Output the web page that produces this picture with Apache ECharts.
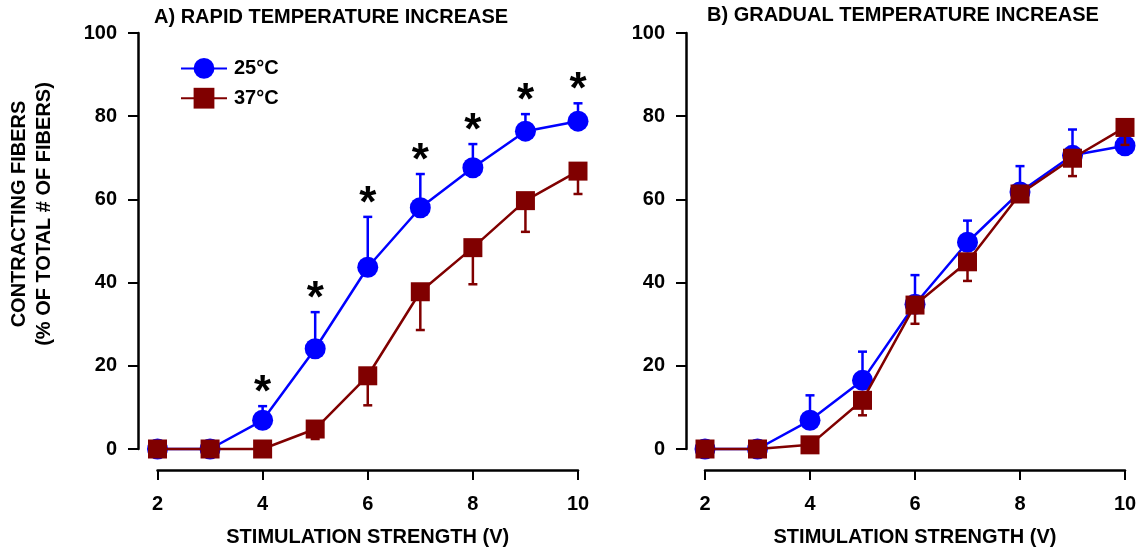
<!DOCTYPE html>
<html>
<head>
<meta charset="utf-8">
<script src="https://cdn.jsdelivr.net/npm/echarts@6/dist/echarts.min.js"></script>
<style>
html,body{margin:0;padding:0;background:#fff;}
#chart{width:1141px;height:552px;}
</style>
</head>
<body>
<div id="chart"></div>
<script>
// ---- data ----
const volts = [2, 3, 4, 5, 6, 7, 8, 9, 10];
const seriesNames = ['25°C', '37°C'];
// Panel A: rapid temperature increase
const A_25 = [0, 0, 6.9, 24.1, 43.7, 58.0, 67.6, 76.4, 78.8];
const A_25_err = [0, 0, 3.4, 8.8, 12.1, 8.1, 5.7, 4.1, 4.3];
const A_37 = [0, 0, 0, 4.8, 17.6, 37.8, 48.4, 59.7, 66.8];
const A_37_err = [0, 0, 0, 2.4, 7.1, 9.2, 8.8, 7.5, 5.5];
const A_sig = [0, 0, 1, 1, 1, 1, 1, 1, 1];
// Panel B: gradual temperature increase
const B_25 = [0, 0, 6.9, 16.5, 34.8, 49.7, 61.8, 70.6, 72.9];
const B_25_err = [0, 0, 6.0, 6.9, 7.0, 5.2, 6.2, 6.2, 2.5];
const B_37 = [0, 0, 1.0, 11.7, 34.6, 45.0, 61.3, 69.9, 77.3];
const B_37_err = [0, 0, 0, 3.6, 4.5, 4.6, 1.5, 4.3, 4.2];
const panelTitles = ['A) RAPID TEMPERATURE INCREASE', 'B) GRADUAL TEMPERATURE INCREASE'];
const xTitle = 'STIMULATION STRENGTH (V)';
const yTitle = ['CONTRACTING FIBERS', '(% OF TOTAL # OF FIBERS)'];

// ---- style ----
const BLUE = '#0000FF';
const RED = '#800000';
const FONT = '"Liberation Sans", Arial, Helvetica, sans-serif';

const chart = echarts.init(document.getElementById('chart'));

function xAxisDef(gi) {
  return {
    type: 'value', gridIndex: gi, min: 2, max: 10, interval: 2, offset: 21,
    axisLine: {show: true, onZero: false, lineStyle: {color: '#000', width: 2.5}},
    axisTick: {show: true, length: 10, lineStyle: {color: '#000', width: 2}},
    axisLabel: {color: '#000', fontFamily: FONT, fontWeight: 'bold', fontSize: 20, margin: 24},
    splitLine: {show: false},
    name: xTitle, nameLocation: 'middle', nameGap: 57,
    nameTextStyle: {color: '#000', fontFamily: FONT, fontWeight: 'bold', fontSize: 20}
  };
}
function yAxisDef(gi, off) {
  return {
    type: 'value', gridIndex: gi, min: 0, max: 100, interval: 20, offset: off,
    axisLine: {show: true, onZero: false, lineStyle: {color: '#000', width: 2.5}},
    axisTick: {show: true, length: 10, lineStyle: {color: '#000', width: 2}},
    axisLabel: {color: '#000', fontFamily: FONT, fontWeight: 'bold', fontSize: 20, margin: 21},
    splitLine: {show: false}
  };
}

function errSeries(gi, vals, errs, dir, color, z) {
  return {
    type: 'custom', xAxisIndex: gi, yAxisIndex: gi, z: z, silent: true,
    data: volts.map((v, i) => [v, vals[i], errs[i]]),
    encode: {x: 0, y: 1},
    renderItem: function (params, api) {
      const x = api.value(0), y = api.value(1), e = api.value(2);
      if (!e) return null;
      const p0 = api.coord([x, y]);
      const p1 = api.coord([x, y + dir * e]);
      const hw = 4.5;
      return {
        type: 'group',
        children: [
          {type: 'line', shape: {x1: p0[0], y1: p0[1], x2: p1[0], y2: p1[1]}, style: {stroke: color, lineWidth: 2.5}},
          {type: 'line', shape: {x1: p1[0] - hw, y1: p1[1], x2: p1[0] + hw, y2: p1[1]}, style: {stroke: color, lineWidth: 2.5}}
        ]
      };
    }
  };
}
function lineSeries(gi, name, vals, color, symbol, size, z) {
  return {
    type: 'line', name: name, xAxisIndex: gi, yAxisIndex: gi, z: z,
    data: volts.map((v, i) => [v, vals[i]]),
    symbol: symbol, symbolSize: size, showAllSymbol: true, clip: false,
    lineStyle: {color: color, width: 2.5},
    itemStyle: {color: color, opacity: 1},
    emphasis: {disabled: true}
  };
}
function sigSeries(gi, vals, errs, flags) {
  return {
    type: 'custom', xAxisIndex: gi, yAxisIndex: gi, z: 6, silent: true,
    data: volts.map((v, i) => [v, vals[i] + errs[i], flags[i]]),
    encode: {x: 0, y: 1},
    renderItem: function (params, api) {
      if (!api.value(2)) return null;
      const p = api.coord([api.value(0), api.value(1)]);
      return {
        type: 'text',
        style: {text: '*', x: p[0], y: p[1] - 12, align: 'center', verticalAlign: 'middle',
          fill: '#000', font: 'bold 44px ' + FONT}
      };
    }
  };
}

const option = {
  backgroundColor: '#fff',
  animation: false,
  title: [
    {text: panelTitles[0], left: 154, top: 7, padding: 0,
      textStyle: {color: '#000', fontFamily: FONT, fontWeight: 'bold', fontSize: 20}},
    {text: panelTitles[1], left: 707, top: 5, padding: 0,
      textStyle: {color: '#000', fontFamily: FONT, fontWeight: 'bold', fontSize: 20}}
  ],
  legend: {
    data: seriesNames, orient: 'vertical', left: 180, top: 58, padding: 0,
    itemWidth: 46, itemHeight: 26, itemGap: 9,
    textStyle: {color: '#000', fontFamily: FONT, fontWeight: 'bold', fontSize: 20, padding: [0, 0, 0, 2]},
    selectedMode: false
  },
  grid: [
    {left: 157.5, right: 563, top: 33, bottom: 100, containLabel: false},
    {left: 705, right: 16, top: 33, bottom: 100, containLabel: false}
  ],
  xAxis: [xAxisDef(0), xAxisDef(1)],
  yAxis: [yAxisDef(0, 19.5), yAxisDef(1, 19)],
  graphic: [
    {type: 'text', x: 32, y: 214, rotation: Math.PI / 2,
      style: {text: yTitle.join('\n'), align: 'center', verticalAlign: 'middle', lineHeight: 25,
        fill: '#000', font: 'bold 20px ' + FONT}}
  ],
  series: [
    errSeries(0, A_25, A_25_err, 1, BLUE, 2),
    lineSeries(0, seriesNames[0], A_25, BLUE, 'circle', 21, 3),
    errSeries(0, A_37, A_37_err, -1, RED, 4),
    lineSeries(0, seriesNames[1], A_37, RED, 'rect', 19, 5),
    sigSeries(0, A_25, A_25_err, A_sig),
    errSeries(1, B_25, B_25_err, 1, BLUE, 2),
    lineSeries(1, seriesNames[0], B_25, BLUE, 'circle', 21, 3),
    errSeries(1, B_37, B_37_err, -1, RED, 4),
    lineSeries(1, seriesNames[1], B_37, RED, 'rect', 19, 5)
  ]
};
chart.setOption(option);
</script>
</body>
</html>
